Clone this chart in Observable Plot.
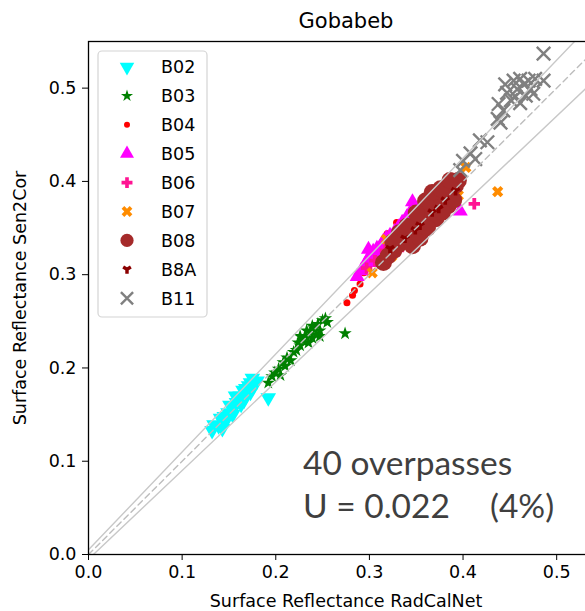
<!DOCTYPE html>
<html><head><meta charset="utf-8">
<script src="https://cdn.jsdelivr.net/npm/d3@7"></script>
<script src="https://cdn.jsdelivr.net/npm/@observablehq/plot@0.6"></script>
<style>
body{margin:0;background:#fff;}
#wrap{position:relative;width:585px;height:611px;overflow:hidden;background:#fff;}
</style></head><body><div id="wrap"></div>
<script>
// ---- data ----
const title = "Gobabeb";
const xLabel = "Surface Reflectance RadCalNet";
const yLabel = "Surface Reflectance Sen2Cor";
const tickValues = [0, 0.1, 0.2, 0.3, 0.4, 0.5];
const bandNames = ["B02","B03","B04","B05","B06","B07","B08","B8A","B11"];
const bandColors = ["#00ffff","#008000","#ff0000","#ff00ff","#ff1493","#ff8c00","#a52a2a","#8b0000","#808080"];
const annotationLine1 = "40 overpasses";
const annotationLine2a = "U = 0.022";
const annotationLine2b = "(4%)";

const b02x = [0.132,0.134,0.139,0.141,0.145,0.149,0.151,0.155,0.158,0.160,0.162,0.157,0.165,0.168,0.166,0.171,0.173,0.175,0.178,0.180,0.147,0.143,0.154,0.163,0.167,0.173,0.176,0.192];
const b02y = [0.133,0.139,0.138,0.146,0.148,0.152,0.160,0.156,0.163,0.167,0.170,0.170,0.176,0.178,0.165,0.181,0.184,0.189,0.184,0.186,0.144,0.135,0.150,0.161,0.169,0.174,0.180,0.168];
const b03x = [0.192,0.196,0.199,0.203,0.208,0.212,0.216,0.219,0.222,0.226,0.229,0.232,0.235,0.237,0.239,0.241,0.243,0.245,0.247,0.250,0.253,0.255,0.233,0.226,0.239,0.247,0.224,0.210,0.205,0.274];
const b03y = [0.184,0.191,0.195,0.199,0.206,0.211,0.208,0.217,0.219,0.224,0.229,0.234,0.227,0.238,0.232,0.242,0.236,0.247,0.240,0.251,0.253,0.249,0.240,0.234,0.245,0.234,0.227,0.202,0.192,0.237];
const b04x = [0.276,0.282,0.284,0.290,0.287,0.294,0.301,0.307,0.314,0.319,0.324,0.331,0.338,0.346,0.352,0.359,0.365,0.372,0.378,0.384,0.392,0.329,0.349,0.367];
const b04y = [0.270,0.278,0.283,0.290,0.297,0.302,0.313,0.317,0.326,0.344,0.331,0.339,0.347,0.353,0.360,0.367,0.373,0.379,0.386,0.392,0.398,0.356,0.342,0.360];
const b05x = [0.287,0.291,0.295,0.298,0.301,0.304,0.308,0.312,0.315,0.318,0.322,0.327,0.331,0.335,0.340,0.343,0.346,0.303,0.312,0.322,0.397,0.299];
const b05y = [0.298,0.304,0.310,0.316,0.321,0.325,0.328,0.331,0.336,0.339,0.342,0.346,0.351,0.356,0.362,0.366,0.378,0.313,0.320,0.330,0.368,0.327];
const b06x = [0.297,0.306,0.317,0.328,0.338,0.349,0.360,0.370,0.381,0.389,0.412,0.331];
const b06y = [0.307,0.315,0.326,0.337,0.345,0.356,0.365,0.374,0.383,0.390,0.376,0.326];
const b07x = [0.303,0.314,0.324,0.333,0.344,0.354,0.365,0.376,0.386,0.395,0.403,0.437,0.318];
const b07y = [0.302,0.313,0.320,0.331,0.339,0.349,0.358,0.367,0.374,0.385,0.415,0.389,0.338];
const b08x = [0.315,0.320,0.326,0.331,0.337,0.343,0.350,0.354,0.360,0.365,0.371,0.376,0.381,0.386,0.392,0.395,0.360,0.367,0.376,0.384,0.371,0.346,0.332,0.354,0.378,0.386,0.340,0.350,0.390,0.362,0.325];
const b08y = [0.313,0.320,0.326,0.332,0.337,0.343,0.349,0.356,0.363,0.369,0.374,0.379,0.385,0.390,0.396,0.401,0.379,0.388,0.392,0.374,0.360,0.331,0.345,0.339,0.367,0.401,0.352,0.366,0.380,0.350,0.335];
const b8ax = [0.322,0.338,0.354,0.367,0.381,0.392,0.349,0.374];
const b8ay = [0.328,0.339,0.353,0.367,0.380,0.390,0.348,0.371];
const b11x = [0.397,0.400,0.408,0.413,0.418,0.426,0.437,0.440,0.438,0.443,0.447,0.451,0.454,0.458,0.461,0.465,0.467,0.470,0.472,0.475,0.477,0.486,0.486,0.456,0.461,0.445];
const b11y = [0.412,0.422,0.430,0.424,0.444,0.442,0.467,0.463,0.483,0.476,0.495,0.487,0.508,0.499,0.510,0.504,0.492,0.508,0.499,0.494,0.510,0.508,0.537,0.491,0.484,0.504];

// reference lines: y = slope*x + offset
const refSlopes = [1.05, 0.95, 1.0];
const refOffsets = [0.005, -0.005, 0.0];
const refDashed = [false, false, true];

// ---- build tables ----
const bandX = [b02x,b03x,b04x,b05x,b06x,b07x,b08x,b8ax,b11x];
const bandY = [b02y,b03y,b04y,b05y,b06y,b07y,b08y,b8ay,b11y];
const bandData = bandNames.map((n,i)=>bandX[i].map((x,j)=>({band:n,x,y:bandY[i][j]})));

// marker styles per band
const styles = [
  {symbol:"triangle", r:5.8, rotate:180},
  {symbol:"star", r:4.2},
  {symbol:"circle", r:3.5},
  {symbol:"triangle", r:5.6},
  {symbol:"cross", r:4.8},
  {symbol:"cross", r:5, rotate:45},
  {symbol:"circle", r:8.5},
  {symbol:"wye", r:3.8},
  {symbol:"times", r:6.2, stroke:true}
];
const legendR = [5.4, 3.8, 3, 5.2, 4.6, 4.8, 6.6, 3.6, 5.6];

const dotMarks = bandData.map((d,i)=>{
  const s = styles[i];
  const o = {x:"x", y:"y", symbol:s.symbol, r:s.r, rotate:s.rotate||0};
  if (s.stroke) { o.stroke = bandColors[i]; o.fill = "none"; o.strokeWidth = 2.4; }
  else { o.fill = bandColors[i]; o.stroke = "none"; }
  return Plot.dot(d, o);
});

const lineX = [0, 0.6];
const lineMarks = refSlopes.map((k,i)=>{
  const pts = lineX.map(x=>({x, y:k*x+refOffsets[i]}));
  return Plot.line(pts, {x:"x", y:"y", stroke: refDashed[i] ? "#bdbdbd" : "#c8c8c8", strokeWidth:1.4,
    strokeDasharray: refDashed[i] ? "6,4" : null, clip:true});
});

const fmt = d3.format(".1f");
const chart = Plot.plot({
  width:585, height:611,
  marginLeft:88, marginRight:-18, marginTop:41, marginBottom:57,
  style:{fontFamily:"DejaVu Sans", fontSize:"17.5px", background:"white", color:"#000"},
  x:{domain:[0,0.55]},
  y:{domain:[0,0.55]},
  marks:[
    ...dotMarks,
    ...lineMarks,
    Plot.frame({stroke:"black", strokeWidth:1.3}),
    Plot.axisX({ticks:tickValues, tickFormat:fmt, tickSize:6, tickPadding:5, tickStrokeWidth:1.3,
      label:xLabel, labelAnchor:"center", labelArrow:"none", labelOffset:52, fontSize:17.5}),
    Plot.axisY({ticks:tickValues, tickFormat:fmt, tickSize:6, tickPadding:6, tickStrokeWidth:1.3,
      label:yLabel, labelAnchor:"center", labelArrow:"none", labelOffset:75, fontSize:17.5}),
    Plot.text([title], {frameAnchor:"top", lineAnchor:"bottom", dy:-14, fontSize:21})
  ]
});
document.getElementById("wrap").appendChild(chart);

// ---- legend & annotation ----
const svg = d3.select(chart);
const lg = svg.append("g");
lg.append("rect").attr("x",98).attr("y",51).attr("width",109).attr("height",266).attr("rx",4)
  .attr("fill","white").attr("fill-opacity",0.8).attr("stroke","#d4d4d4").attr("stroke-width",1.2);
const symMap = {triangle:d3.symbolTriangle, star:d3.symbolStar, circle:d3.symbolCircle, cross:d3.symbolCross, wye:d3.symbolWye, times:d3.symbolTimes};
bandNames.forEach((n,i)=>{
  const s = styles[i];
  const cy = 67 + 28.9*i;
  const p = lg.append("path")
    .attr("d", d3.symbol(symMap[s.symbol], Math.PI*legendR[i]*legendR[i])())
    .attr("transform", `translate(127,${cy}) rotate(${s.rotate||0})`);
  if (s.stroke) p.attr("fill","none").attr("stroke",bandColors[i]).attr("stroke-width",2.4);
  else p.attr("fill",bandColors[i]);
  lg.append("text").attr("x",161).attr("y",cy).attr("dy","0.36em").attr("text-anchor","start")
    .attr("font-family","DejaVu Sans").attr("font-size",17.5).attr("fill","#000").text(n);
});
const ann = svg.append("g").attr("font-family","Lato, 'Open Sans', sans-serif").attr("font-size",33.5)
  .attr("fill","#3f3f3f").attr("text-anchor","start");
ann.append("text").attr("x",303).attr("y",475).text(annotationLine1);
ann.append("text").attr("x",303).attr("y",518).text(annotationLine2a);
ann.append("text").attr("x",490).attr("y",518).text(annotationLine2b);
</script></body></html>
